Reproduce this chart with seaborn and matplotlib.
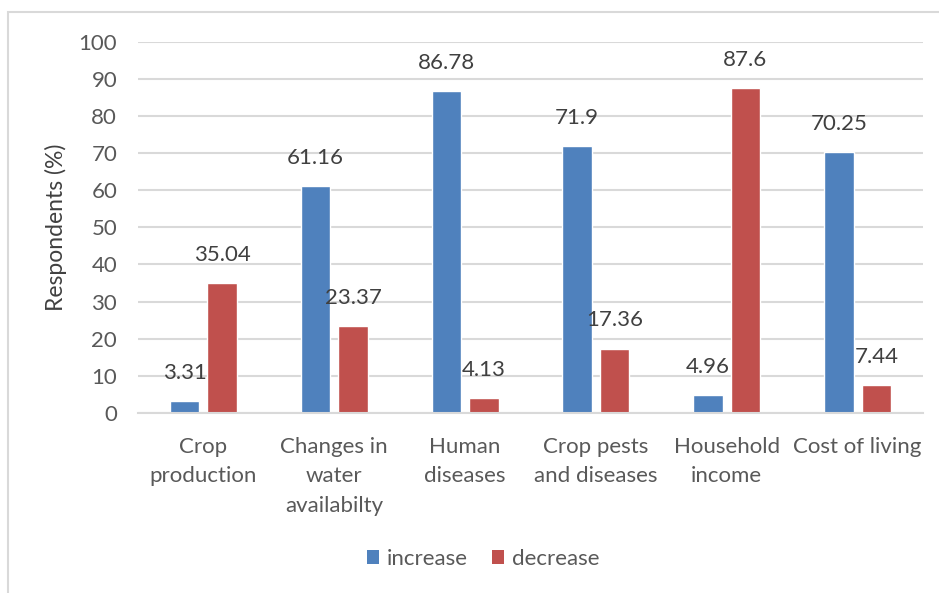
import matplotlib
matplotlib.use("Agg")
import matplotlib.pyplot as plt
from matplotlib.patches import Rectangle, Patch
import seaborn as sns
import pandas as pd

categories = ["Crop\nproduction", "Changes in\nwater\navailabilty", "Human\ndiseases",
              "Crop pests\nand diseases", "Household\nincome", "Cost of living"]
increase = [3.31, 61.16, 86.78, 71.9, 4.96, 70.25]
decrease = [35.04, 23.37, 4.13, 17.36, 87.6, 7.44]
series = ["increase", "decrease"]
colors = ["#4F81BD", "#C0504D"]
yticks = [0, 10, 20, 30, 40, 50, 60, 70, 80, 90, 100]

df = pd.DataFrame({
    "category": categories * 2,
    "value": increase + decrease,
    "series": [series[0]] * len(categories) + [series[1]] * len(categories),
})

sns.set_theme(style="white")
plt.rcParams["font.family"] = ["Lato", "DejaVu Sans"]
text_color = "#595959"
grid_color = "#D9D9D9"
fs = 16

fig = plt.figure(figsize=(9.39, 5.93), dpi=100)
W, H = 939, 593
ax = fig.add_axes([138 / W, 1 - 413 / H, (923 - 138) / W, (413 - 41.7) / H])

sns.barplot(data=df, x="category", y="value", hue="series", order=categories,
            hue_order=series, palette=colors, width=0.573, gap=0.213,
            saturation=1, ax=ax, legend=False)

ax.set_ylim(0, 100)
ax.set_xlim(-0.5, len(categories) - 0.5)
ax.set_yticks(yticks)
ax.yaxis.grid(True, color=grid_color, linewidth=1.5)
ax.set_axisbelow(True)
for side in ["left", "right", "top"]:
    ax.spines[side].set_visible(False)
ax.spines["bottom"].set_color(grid_color)
ax.spines["bottom"].set_linewidth(1.5)
ax.tick_params(axis="y", length=0, pad=15, labelsize=fs, labelcolor=text_color)
ax.tick_params(axis="x", length=0, pad=17, labelsize=fs, labelcolor=text_color)
for lbl in ax.get_xticklabels():
    lbl.set_linespacing(1.6)
ax.set_xlabel("")
ax.set_ylabel("Respondents (%)", fontsize=16.5, color="#404040", labelpad=8)

for container in ax.containers:
    ax.bar_label(container, labels=[f"{v:g}" for v in container.datavalues],
                 padding=13, fontsize=fs, color="#404040")

handles = [Patch(facecolor=c, edgecolor="none") for c in colors]
fig.legend(handles, series, loc="center", bbox_to_anchor=(483 / W, 1 - 559 / H),
           ncol=2, frameon=False, fontsize=fs, handlelength=0.55, handleheight=0.55,
           handletextpad=0.35, columnspacing=1.1, labelcolor=text_color)

# light chart-area frame
fig.patches.append(Rectangle((8 / W, -0.1), 1.2, 1.1 - 12.5 / H, transform=fig.transFigure,
                             fill=False, edgecolor=grid_color, linewidth=1.5))

fig.savefig("out.png", dpi=100)
